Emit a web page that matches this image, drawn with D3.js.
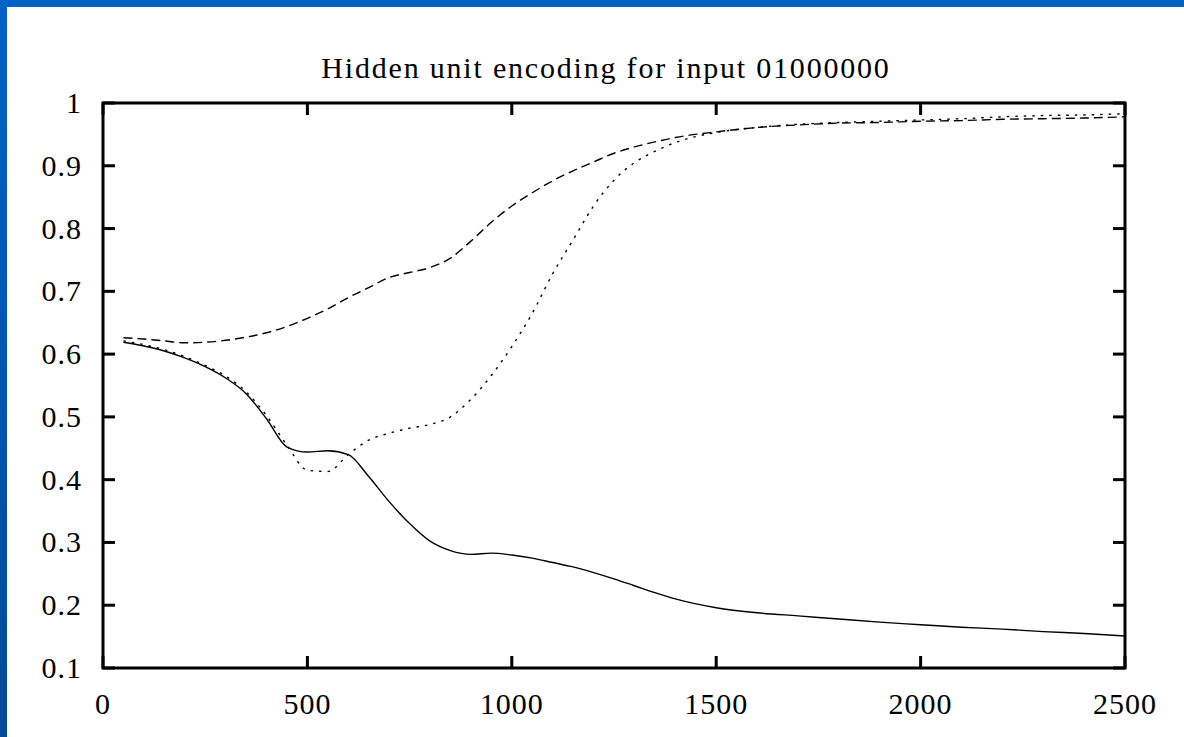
<!DOCTYPE html>
<html><head><meta charset="utf-8">
<script src="https://cdn.jsdelivr.net/npm/d3@7/dist/d3.min.js"></script>
<style>html,body{margin:0;padding:0;background:#fff;overflow:hidden}</style>
</head><body>
<svg id="c" width="1184" height="737"></svg>
<script>
const title = "Hidden unit encoding for input 01000000";
const iterations = [50,100,150,200,250,300,350,400,450,500,550,600,650,700,750,800,850,900,950,1000,1050,1100,1150,1200,1250,1300,1350,1400,1500,1600,1700,1800,1900,2000,2100,2200,2300,2400,2500];
const unitSolid = [.619,.613,.605,.594,.580,.562,.537,.497,.452,.444,.446,.440,.405,.365,.330,.302,.287,.281,.283,.280,.275,.268,.261,.252,.242,.231,.220,.210,.196,.188,.183,.178,.173,.169,.165,.162,.158,.155,.151];
const unitDashed = [.626,.624,.621,.618,.619,.622,.627,.634,.644,.657,.672,.690,.706,.722,.730,.738,.753,.780,.810,.836,.857,.876,.892,.906,.920,.930,.938,.945,.954,.961,.965,.968,.969,.971,.972,.974,.975,.976,.978];
const unitDotted = [.621,.615,.607,.596,.582,.565,.540,.502,.455,.415,.413,.440,.463,.474,.482,.488,.500,.528,.566,.612,.665,.728,.782,.836,.877,.905,.923,.937,.953,.961,.966,.969,.971,.973,.975,.978,.980,.981,.983];
const xTicks = [0,500,1000,1500,2000,2500];
const yTicks = [0.1,0.2,0.3,0.4,0.5,0.6,0.7,0.8,0.9,1];

const svg = d3.select("#c");
const W = 1184, H = 737;
const defs = svg.append("defs");
const g1 = defs.append("linearGradient").attr("id","bl").attr("x1",0).attr("y1",0).attr("x2",0).attr("y2",1);
g1.append("stop").attr("offset","0%").attr("stop-color","#0062c4");
g1.append("stop").attr("offset","100%").attr("stop-color","#004a98");
svg.append("rect").attr("width",W).attr("height",H).attr("fill","#fff");
svg.append("rect").attr("x",0).attr("y",0).attr("width",7).attr("height",H).attr("fill","url(#bl)");
svg.append("rect").attr("x",0).attr("y",0).attr("width",W).attr("height",7).attr("fill","#0062c4");

const L = 103, R = 1125, T = 103, B = 668;
const x = d3.scaleLinear().domain([0,2500]).range([L,R]);
const y = d3.scaleLinear().domain([0.1,1]).range([B,T]);
const font = "'Liberation Serif','DejaVu Serif',serif";

// ticks (inward, mirrored)
const tk = svg.append("g").attr("stroke","#000").attr("stroke-width",3);
xTicks.forEach(v=>{
  tk.append("line").attr("x1",x(v)).attr("x2",x(v)).attr("y1",B).attr("y2",B-12);
  tk.append("line").attr("x1",x(v)).attr("x2",x(v)).attr("y1",T).attr("y2",T+12);
});
yTicks.forEach(v=>{
  tk.append("line").attr("x1",L).attr("x2",L+12).attr("y1",y(v)).attr("y2",y(v));
  tk.append("line").attr("x1",R).attr("x2",R-12).attr("y1",y(v)).attr("y2",y(v));
});

// lines
const series = [
  {vals: unitSolid, dash: null},
  {vals: unitDashed, dash: "9,5"},
  {vals: unitDotted, dash: "2.5,6"}
];
const line = d3.line().x(d=>x(d[0])).y(d=>y(d[1])).curve(d3.curveMonotoneX);
series.forEach(s=>{
  svg.append("path").datum(iterations.map((it,i)=>[it,s.vals[i]]))
    .attr("d",line).attr("fill","none").attr("stroke","#000").attr("stroke-width",1.4)
    .attr("stroke-dasharray",s.dash);
});

// frame
svg.append("rect").attr("x",L).attr("y",T).attr("width",R-L).attr("height",B-T)
  .attr("fill","none").attr("stroke","#000").attr("stroke-width",3);

// labels
const lab = svg.append("g").attr("font-family",font).attr("font-size",30).attr("fill","#000");
xTicks.forEach(v=>{
  lab.append("text").attr("x",x(v)).attr("y",714).attr("text-anchor","middle").attr("letter-spacing",1).text(v);
});
yTicks.forEach(v=>{
  lab.append("text").attr("x",82).attr("y",y(v)+10).attr("text-anchor","end").attr("letter-spacing",1).text(d3.format("~g")(v));
});
svg.append("text").attr("x",606).attr("y",78).attr("text-anchor","middle")
  .attr("font-family",font).attr("font-size",30).attr("letter-spacing",1.8).attr("fill","#000").text(title);
</script>
</body></html>
